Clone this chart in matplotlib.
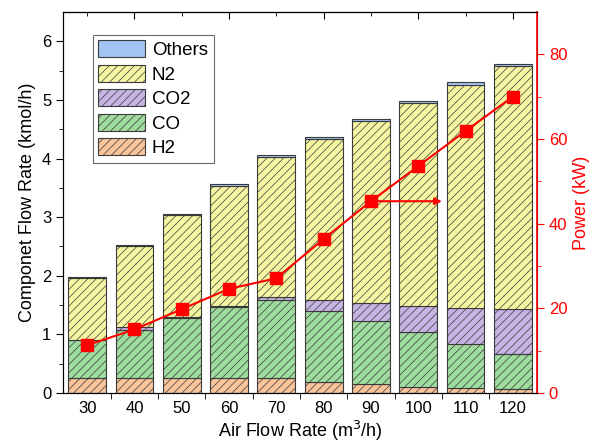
import matplotlib
matplotlib.use('Agg')
import matplotlib.pyplot as plt
from matplotlib.patches import Patch
import numpy as np

plt.rc('font', family=['Liberation Sans', 'DejaVu Sans'])
plt.rc('hatch', linewidth=0.5)

# air flow rate (m3/h)
air_flow = [30, 40, 50, 60, 70, 80, 90, 100, 110, 120]

# component flow rates, kmol/h
h2 = [0.25, 0.25, 0.25, 0.25, 0.25, 0.19, 0.15, 0.11, 0.08, 0.06]
co = [0.65, 0.83, 1.03, 1.21, 1.33, 1.21, 1.07, 0.93, 0.76, 0.61]
co2 = [0.01, 0.04, 0.01, 0.02, 0.05, 0.18, 0.31, 0.45, 0.61, 0.77]
n2 = [1.05, 1.38, 1.74, 2.06, 2.40, 2.76, 3.11, 3.45, 3.80, 4.14]
others = [0.02, 0.02, 0.02, 0.02, 0.03, 0.02, 0.04, 0.05, 0.05, 0.04]

# power (kW)
power = [11.3, 15.0, 19.8, 24.6, 27.1, 36.4, 45.3, 53.6, 61.9, 70.0]

names = ['H2', 'CO', 'CO2', 'N2', 'Others']
colors = ['#f9c49a', '#9fdc9f', '#c6b4e2', '#f6f6a2', '#a3c3f2']
hatches = ['////', '////', '////', '////', '']

fig = plt.figure(figsize=(5.91, 4.44), dpi=100)
ax = fig.add_axes([0.1066, 0.1149, 0.802, 0.858])

x = np.arange(len(air_flow))
bottom = np.zeros(len(x))
for vals, name, c, h in zip([h2, co, co2, n2, others], names, colors, hatches):
    ax.bar(x, vals, 0.8, bottom=bottom, color=c, edgecolor='#3a3a3a',
           linewidth=0.8, hatch=h, label=name)
    bottom += np.array(vals)

ax.set_xlim(-0.51, 9.51)
ax.set_ylim(0, 6.5)
ax.set_xticks(x)
ax.set_xticklabels([str(a) for a in air_flow], fontsize=12)
ax.tick_params(axis='x', which='major', length=0, pad=6)
ax.set_xticks(np.arange(-0.5, 9.6, 1.0)[1:-1], minor=True)
ax.tick_params(axis='x', which='minor', length=4, direction='out')
ax.set_yticks(np.arange(0, 7, 1))
ax.set_yticks(np.arange(0.5, 6.5, 1), minor=True)
ax.tick_params(axis='y', which='major', length=5, labelsize=12)
ax.tick_params(axis='y', which='minor', length=3)
ax.set_xlabel('Air Flow Rate (m$^3$/h)', fontsize=13, labelpad=2)
ax.set_ylabel('Componet Flow Rate (kmol/h)', fontsize=13)

top = ax.secondary_xaxis('top')
top.set_xticks(x[1::2])
top.set_xticks(x[0::2], minor=True)
top.set_xticklabels([])
top.tick_params(which='major', direction='in', length=5)
top.tick_params(which='minor', direction='in', length=3)

handles = [Patch(facecolor=c, edgecolor='#3a3a3a', hatch=h, linewidth=0.8, label=n)
           for n, c, h in zip(names, colors, hatches)][::-1]
leg = ax.legend(handles=handles, loc='upper left', bbox_to_anchor=(0.055, 0.95),
                fontsize=13.5, frameon=True, fancybox=False, edgecolor='#444444',
                handlelength=2.5, handleheight=1.0, labelspacing=0.3,
                handletextpad=0.35, borderpad=0.3, borderaxespad=0.2)
leg.get_frame().set_linewidth(0.8)

ax2 = ax.twinx()
ax2.plot(x, power, color='red', marker='s', markersize=8, linewidth=1.5)
ax2.annotate('', xy=(7.5, power[6]), xytext=(6, power[6]),
             arrowprops=dict(arrowstyle='-|>', color='red', lw=1.5,
                             mutation_scale=10, shrinkA=0, shrinkB=0))
ax2.set_ylim(0, 90)
ax2.set_yticks([0, 20, 40, 60, 80])
ax2.set_yticks([10, 30, 50, 70], minor=True)
ax2.tick_params(axis='y', which='major', colors='red', length=5, labelsize=12)
ax2.tick_params(axis='y', which='minor', colors='red', length=3)
ax2.spines['right'].set_color('red')
ax2.spines['right'].set_linewidth(1.2)
ax2.set_ylabel('Power (kW)', color='red', fontsize=13)

plt.savefig('out.png', dpi=100)
